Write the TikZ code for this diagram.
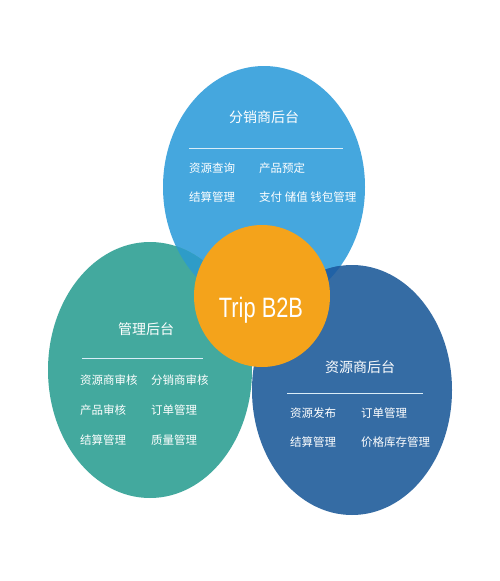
\documentclass[tikz,border=0pt]{standalone}
\usepackage{fontspec}
\setmainfont{Noto Sans CJK SC}
\newfontfamily\tripfont[FakeStretch=0.78]{Liberation Sans}

\definecolor{salesblue}{HTML}{45A7DE}
\definecolor{adminteal}{HTML}{43A99E}
\definecolor{supplyblue}{HTML}{356CA4}
\definecolor{tealmix}{HTML}{2E9CC8}
\definecolor{supplymix}{HTML}{2062A6}
\definecolor{coreorange}{HTML}{F4A31B}

\begin{document}
\begin{tikzpicture}[x=1pt, y=-1pt,
    title/.style={text=white, inner sep=0pt, anchor=center, font=\fontsize{14}{16}\selectfont},
    item/.style={text=white, inner sep=0pt, anchor=west, font=\fontsize{11.5}{13}\selectfont},
    rule/.style={draw=white!80!salesblue, line width=0.7pt}]
  \useasboundingbox (0, 0) rectangle (500, 581);
  \fill[white] (0, 0) rectangle (500, 581);

  \begin{scope}
    % the three back-office ellipses
    \fill[salesblue] (264, 187) ellipse [x radius=101, y radius=121];
    \fill[adminteal] (150, 370) ellipse [x radius=102, y radius=128];
    \fill[supplyblue] (352, 390) ellipse [x radius=100, y radius=125];

    % overlaps
    \begin{scope}
      \clip (264, 187) ellipse [x radius=101, y radius=121];
      \fill[tealmix] (150, 370) ellipse [x radius=102, y radius=128];
      \fill[supplymix] (352, 390) ellipse [x radius=100, y radius=125];
    \end{scope}

    \fill[coreorange] (262, 296) ellipse [x radius=68, y radius=71];
    \node[anchor=center, inner sep=0pt, text=white, font=\tripfont\fontsize{28}{30}\selectfont] (trip) at (261, 310) {Trip B2B};

    % sales back office
    \node[title] (salesTitle) at (264, 117) {分销商后台};
    \draw[rule] (189, 148) -- (343, 148);
    \node[item] (sales1) at (189, 168) {资源查询};
    \node[item] (sales2) at (259, 168) {产品预定};
    \node[item] (sales3) at (189, 197) {结算管理};
    \node[item] (sales4) at (259, 197) {支付 储值 钱包管理};

    % admin back office
    \node[title] (adminTitle) at (146, 329) {管理后台};
    \draw[rule] (82, 358) -- (203, 358);
    \node[item] (admin1) at (80, 380) {资源商审核};
    \node[item] (admin2) at (151, 380) {分销商审核};
    \node[item] (admin3) at (80, 410) {产品审核};
    \node[item] (admin4) at (151, 410) {订单管理};
    \node[item] (admin5) at (80, 440) {结算管理};
    \node[item] (admin6) at (151, 440) {质量管理};

    % supplier back office
    \node[title] (supplyTitle) at (360, 367) {资源商后台};
    \draw[rule] (287, 393) -- (423, 393);
    \node[item] (supply1) at (290, 413) {资源发布};
    \node[item] (supply2) at (361, 413) {订单管理};
    \node[item] (supply3) at (290, 442) {结算管理};
    \node[item] (supply4) at (361, 442) {价格库存管理};
  \end{scope}
\end{tikzpicture}
\end{document}
